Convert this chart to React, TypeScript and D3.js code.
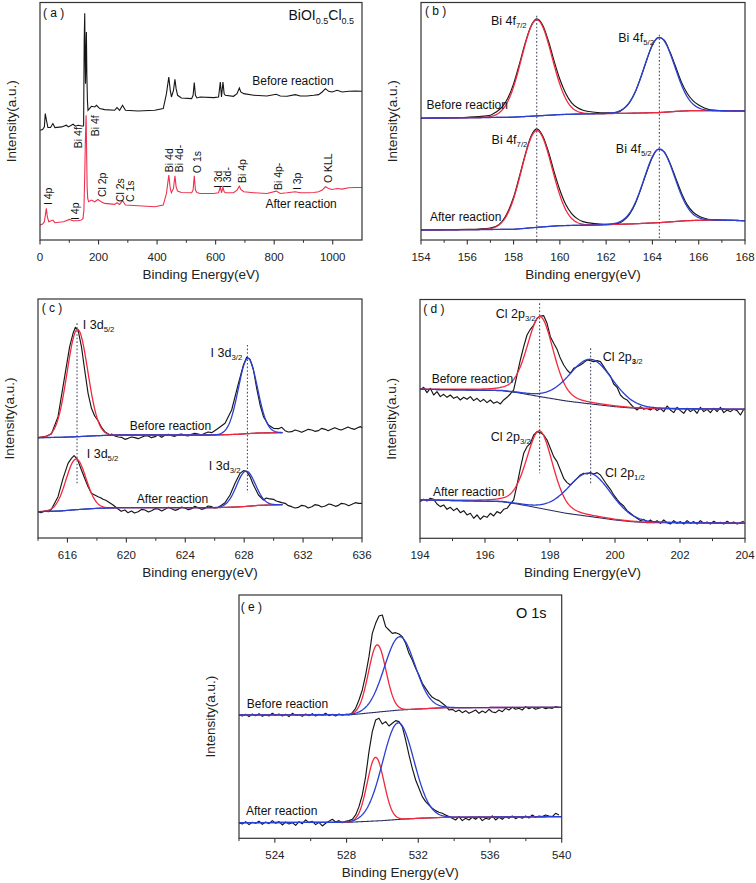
import React from "react";
import * as d3 from "d3";

type Pt = [number, number];
type Peak = { c: number; a: number; w: number; eta?: number };

const FONT = "'Liberation Sans', Arial, Helvetica, sans-serif";
const BLACK = "#161616";
const RED = "#f2283e";
const BLUE = "#2b3fd4";
const BGC = "#2a2d63";
const PINK = "#f03050";
const AXIS = "#333";

// ================= Panel (a): survey =================
const surveyBefore: Pt[] = [
  [0, 330], [9, 332], [15, 340], [18, 380], [22, 360], [27, 338], [36, 338], [44, 350], [51, 338], [74, 340],
  [90, 345], [97, 340], [113, 348], [121, 342], [130, 345], [147, 342], [149, 345], [151, 600], [152.8, 682],
  [154, 560], [155.5, 470], [157, 560], [158.5, 625], [160, 500], [162, 420], [164, 390], [175.6, 402], [187, 400],
  [193, 405], [204, 395], [221, 392], [255, 390], [263, 398], [272, 390], [282, 405], [292, 390], [335, 388],
  [392, 390], [421, 395], [432, 440], [440, 490], [445, 450], [449, 430], [456, 450], [461, 483], [465, 455],
  [470, 435], [483, 427], [518, 425], [523, 435], [527, 473], [531, 435], [536, 427], [547, 430], [593, 428],
  [610, 430], [616, 475], [620, 430], [625, 475], [629, 440], [633, 435], [661, 432], [673, 440], [681, 457],
  [686, 445], [696, 440], [730, 435], [775, 433], [807, 438], [821, 433], [844, 432], [872, 437], [889, 433],
  [912, 433], [935, 435], [952, 437], [964, 445], [975, 455], [986, 447], [998, 445], [1015, 450], [1032, 445],
  [1055, 447], [1078, 448], [1100, 447],
];
const surveyAfter: Pt[] = [
  [0, 45], [9, 48], [15, 55], [21.7, 95], [25, 70], [30, 55], [44, 60], [51, 52], [80, 55], [101, 62], [113, 58],
  [130, 58], [141, 60], [147, 65], [150, 90], [153, 200], [155, 300], [157.5, 375], [159.5, 250], [161, 160],
  [163, 125], [166, 115], [175.6, 120], [187, 115], [198, 122], [209, 115], [221, 110], [255, 107], [263, 112],
  [272, 107], [282, 118], [292, 105], [335, 103], [392, 100], [421, 105], [432, 140], [440, 195], [445, 155],
  [449, 142], [456, 155], [461, 193], [465, 160], [470, 147], [483, 143], [518, 142], [523, 150], [527, 193],
  [531, 150], [536, 143], [547, 140], [593, 140], [610, 142], [616, 160], [620, 142], [625, 158], [629, 145],
  [633, 142], [661, 142], [673, 150], [681, 162], [686, 152], [696, 145], [730, 142], [775, 140], [807, 147],
  [821, 140], [844, 142], [872, 145], [889, 142], [912, 142], [935, 143], [952, 145], [964, 150], [975, 160],
  [986, 155], [998, 152], [1015, 155], [1032, 153], [1055, 157], [1078, 158], [1100, 158],
];
const surveyMajor = [0, 200, 400, 600, 800, 1000];
const surveyMinor = [100, 300, 500, 700, 900];
const surveyPeakLabels: { t: string; e: number; v: number }[] = [
  { t: "I 4p", e: 41, v: 105 }, { t: "I 4p", e: 133, v: 60 }, { t: "Bi 4f", e: 144, v: 276 },
  { t: "Bi 4f", e: 202, v: 312 }, { t: "Cl 2p", e: 226, v: 129 }, { t: "Cl 2s", e: 287, v: 114 },
  { t: "C 1s", e: 322, v: 114 }, { t: "Bi 4d", e: 453, v: 204 }, { t: "Bi 4d-", e: 488, v: 204 },
  { t: "O 1s", e: 551, v: 201 }, { t: "I 3d", e: 621, v: 156 }, { t: "I 3d-", e: 654, v: 156 },
  { t: "Bi 4p", e: 705, v: 171 }, { t: "Bi 4p-", e: 828, v: 150 }, { t: "I 3p", e: 893, v: 150 },
  { t: "O KLL", e: 999, v: 171 },
];

// ================= Panel (b): Bi 4f =================
const biRawBefore: Pt[] = [
  [154, 365], [155, 366], [156, 368], [156.5, 370], [157, 374], [157.25, 384], [157.5, 398], [157.75, 425],
  [158, 468], [158.25, 527], [158.5, 590], [158.75, 641], [159, 663], [159.25, 645], [159.5, 598], [159.75, 537],
  [160, 482], [160.25, 440], [160.5, 412], [160.75, 397], [161, 389], [161.5, 383], [162, 381], [162.5, 383],
  [162.75, 393], [163, 411], [163.25, 442], [163.5, 488], [163.75, 539], [164, 585], [164.25, 607], [164.5, 600],
  [164.75, 565], [165, 520], [165.25, 474], [165.5, 440], [165.75, 418], [166, 405], [166.25, 396], [166.5, 390],
  [167, 388], [167.5, 387], [168, 387],
];
const biRawAfter: Pt[] = [
  [154, 30], [155, 31], [156, 32], [156.5, 33], [157, 36], [157.25, 41], [157.5, 55], [157.75, 84], [158, 128],
  [158.25, 190], [158.5, 255], [158.75, 310], [159, 333], [159.25, 313], [159.5, 266], [159.75, 205], [160, 150],
  [160.25, 107], [160.5, 80], [160.75, 64], [161, 55], [161.5, 49], [162, 47], [162.5, 49], [162.75, 58], [163, 76],
  [163.25, 107], [163.5, 153], [163.75, 203], [164, 248], [164.25, 272], [164.5, 265], [164.75, 232], [165, 187],
  [165.25, 142], [165.5, 106], [165.75, 84], [166, 72], [166.25, 65], [166.5, 61], [167, 60], [167.5, 59], [168, 58],
];
const biBgBefore: Pt[] = [[154, 365], [157.9, 368], [159, 372], [160, 376], [161, 378], [163, 380], [164.3, 382], [165.1, 386], [165.8, 388], [168, 387]];
const biBgAfter: Pt[] = [[154, 30], [158, 32], [159, 38], [160, 43], [161.5, 45], [163, 48], [164.3, 52], [165.5, 58], [166.5, 60], [168, 58]];
const biPeaksBefore: Peak[] = [{ c: 159.0, a: 288, w: 1.55 }, { c: 164.3, a: 225, w: 1.55 }];
const biPeaksAfter: Peak[] = [{ c: 159.0, a: 290, w: 1.55 }, { c: 164.3, a: 221, w: 1.55 }];
const biMajor = [154, 156, 158, 160, 162, 164, 166, 168];
const biMinor = [155, 157, 159, 161, 163, 165, 167];

// ================= Panel (c): I 3d =================
const iRawBefore: Pt[] = [
  [614.0, 301], [614.45, 304], [614.91, 312], [615.36, 364], [615.81, 484], [616.15, 574], [616.38, 614],
  [616.54, 632], [616.72, 624], [616.95, 574], [617.17, 504], [617.4, 434], [617.63, 389], [617.85, 366],
  [618.08, 352], [618.31, 332], [618.54, 319], [618.88, 309], [619.0, 312], [619.22, 306], [619.45, 303],
  [619.67, 302], [619.9, 296], [620.12, 299], [620.35, 303], [620.58, 301], [620.8, 298], [621.03, 302],
  [621.25, 306], [621.48, 306], [621.7, 301], [621.94, 304], [622.15, 309], [622.4, 302], [622.62, 308],
  [622.85, 311], [623.07, 307], [623.3, 305], [623.52, 310], [623.75, 312], [623.98, 308], [624.2, 306],
  [624.43, 311], [624.65, 314], [624.88, 312], [625.1, 309], [625.34, 314], [625.55, 318], [625.79, 316],
  [626.0, 322], [626.24, 329], [626.7, 344], [627.15, 384], [627.61, 464], [627.95, 519], [628.17, 542],
  [628.4, 536], [628.63, 504], [628.85, 449], [629.08, 399], [629.31, 364], [629.65, 339], [629.99, 329],
  [630.33, 328], [630.55, 332], [630.78, 322], [631.0, 318], [631.23, 319], [631.45, 324], [631.69, 321],
  [631.9, 317], [632.14, 322], [632.35, 326], [632.59, 324], [632.8, 320], [633.05, 322], [633.25, 329],
  [633.5, 326], [633.7, 322], [633.95, 327], [634.15, 331], [634.41, 326], [634.6, 324], [634.86, 329],
  [635.05, 333], [635.32, 328], [635.5, 326], [635.77, 332], [635.9, 334], [636.0, 331],
];
const iRawAfter: Pt[] = [
  [614.0, 79], [614.2, 76], [614.45, 81], [614.7, 79], [614.91, 86], [615.36, 124], [615.7, 179], [616.04, 224],
  [616.27, 239], [616.45, 247], [616.68, 236], [616.95, 204], [617.17, 179], [617.4, 154], [617.63, 134],
  [617.85, 129], [618.08, 124], [618.25, 121], [618.42, 116], [618.6, 113], [618.76, 109], [619.1, 99],
  [619.44, 87], [619.65, 80], [619.9, 84], [620.1, 76], [620.35, 81], [620.55, 75], [620.8, 79], [621.05, 86],
  [621.26, 84], [621.5, 78], [621.71, 82], [621.95, 88], [622.16, 87], [622.4, 81], [622.62, 86], [622.85, 92],
  [623.07, 88], [623.3, 83], [623.52, 86], [623.75, 93], [623.98, 90], [624.2, 85], [624.43, 88], [624.65, 95],
  [624.88, 91], [625.1, 86], [625.34, 89], [625.55, 96], [625.79, 94], [626.0, 90], [626.24, 92], [626.45, 98],
  [626.7, 106], [627.04, 129], [627.38, 164], [627.72, 194], [627.95, 202], [628.17, 199], [628.4, 184],
  [628.63, 159], [628.97, 129], [629.31, 114], [629.5, 120], [629.65, 118], [629.99, 116], [630.15, 112],
  [630.33, 109], [630.55, 106], [630.78, 104], [631.0, 97], [631.23, 94], [631.45, 90], [631.69, 92], [631.9, 98],
  [632.14, 96], [632.35, 90], [632.59, 94], [632.8, 100], [633.05, 98], [633.25, 93], [633.5, 96], [633.75, 102],
  [633.95, 100], [634.2, 95], [634.41, 98], [634.6, 104], [634.86, 102], [635.1, 97], [635.32, 101], [635.55, 106],
  [635.77, 104], [636.0, 104],
];
const iBgBefore: Pt[] = [[614, 301], [615.5, 302], [616.7, 304], [618, 307], [619.5, 309], [626, 309], [627.5, 311], [628.2, 313], [629, 315], [630.5, 316]];
const iBgAfter: Pt[] = [[614, 79], [615.5, 81], [616.6, 85], [618, 89], [619.5, 91], [626, 91], [627.5, 93], [628.2, 95], [629, 98], [630.5, 100]];
const iPeaksBefore: Peak[] = [{ c: 616.68, a: 322, w: 1.65 }, { c: 628.25, a: 226, w: 1.52 }];
const iPeaksAfter: Peak[] = [{ c: 616.58, a: 152, w: 1.6 }, { c: 628.12, a: 106, w: 1.5 }];
const iMajor = [616, 620, 624, 628, 632, 636];
const iMinor = [614, 618, 622, 626, 630, 634];

// ================= Panel (d): Cl 2p =================
const clStart = 194.01;
const clStep = 0.1026;
const clRawBefore = [
  445, 453, 437, 450, 430, 440, 425, 432, 423, 430, 420, 425, 415, 423, 417, 425, 413, 420, 410, 417,
  407, 415, 405, 410, 403, 415, 423, 433, 445, 490, 535, 575, 610, 627, 640, 660, 667, 668, 645, 605,
  585, 567, 540, 520, 505, 495, 510, 515, 520, 527, 535, 533, 530, 533, 530, 515, 500, 487, 463, 453,
  430, 420, 415, 403, 393, 385, 395, 387, 390, 385, 393, 383, 390, 380, 397, 385, 377, 393, 383, 375,
  390, 380, 387, 375, 393, 380, 387, 377, 390, 380, 393, 377, 385, 380, 387, 383, 370, 387,
];
const clRawAfter = [
  110, 117, 112, 120, 117, 103, 95, 100, 87, 93, 83, 90, 77, 83, 70, 75, 60, 70, 57, 67,
  63, 75, 67, 80, 75, 87, 90, 103, 115, 160, 210, 255, 275, 285, 310, 320, 317, 310, 295, 270,
  245, 230, 205, 180, 167, 160, 170, 180, 190, 195, 193, 197, 193, 197, 190, 175, 160, 147, 130, 117,
  105, 97, 83, 75, 67, 60, 53, 57, 47, 55, 47, 53, 45, 55, 47, 43, 53, 45, 50, 43,
  53, 45, 50, 43, 53, 45, 49, 43, 51, 45, 48, 43, 51, 45, 49, 43, 47, 51,
];
const clBgBefore: Pt[] = [[194, 447], [196.5, 443], [197, 437], [197.7, 425], [198.5, 412], [199.26, 403], [200, 395], [200.5, 391], [201, 389], [204, 387]];
const clBgAfter: Pt[] = [[194, 115], [196.5, 110], [197, 103], [197.7, 90], [198.5, 75], [199.26, 65], [200, 55], [200.5, 50], [201, 47], [204, 45]];
const clPeaksBefore: Peak[] = [{ c: 197.7, a: 240, w: 0.95, eta: 0.25 }, { c: 199.26, a: 134, w: 1.55, eta: 0.1 }];
const clPeaksAfter: Peak[] = [{ c: 197.68, a: 232, w: 0.95, eta: 0.25 }, { c: 199.22, a: 130, w: 1.55, eta: 0.1 }];
const clMajor = [194, 196, 198, 200, 202, 204];
const clMinor = [195, 197, 199, 201, 203];

// ================= Panel (e): O 1s =================
const oStart = 522;
const oStep = 0.1859;
const oRawBefore = [
  370, 367, 372, 365, 373, 368, 374, 366, 371, 367, 375, 369, 373, 367, 372, 365, 375, 369, 371, 366,
  373, 368, 374, 367, 372, 369, 375, 368, 372, 367, 373, 369, 372, 370, 377, 390, 415, 445, 490, 545,
  615, 645, 667, 670, 635, 625, 615, 617, 613, 605, 585, 555, 535, 510, 490, 465, 450, 435, 423, 417,
  413, 405, 397, 385, 387, 380, 385, 377, 383, 375, 380, 385, 375, 382, 377, 387, 379, 377, 385, 380,
  390, 385, 393, 387, 390, 385, 395, 389, 393, 387, 390, 393, 389, 392, 390, 395, 392,
];
const oRawAfter = [
  47, 43, 50, 41, 48, 45, 51, 42, 49, 44, 53, 45, 50, 40, 49, 43, 47, 39, 50, 44,
  55, 47, 51, 41, 48, 37, 45, 51, 57, 49, 53, 47, 51, 53, 57, 70, 95, 130, 185, 260,
  320, 355, 360, 343, 350, 337, 345, 353, 350, 335, 295, 250, 210, 175, 150, 125, 110, 100, 90, 83,
  78, 75, 70, 65, 60, 55, 65, 53, 60, 55, 63, 57, 65, 53, 60, 57, 67, 55, 63, 57,
  65, 60, 67, 59, 65, 60, 67, 61, 70, 63, 67, 65, 70, 67, 65, 75, 70,
];
const oBgBefore: Pt[] = [[522, 370], [528.3, 371], [530, 380], [531, 385], [532, 388], [533.5, 392], [540, 393]];
const oBgAfter: Pt[] = [[522, 47], [528.1, 48], [530, 53], [531, 57], [532, 60], [533.5, 63], [540, 65]];
const oPeaksBefore: Peak[] = [{ c: 529.71, a: 202, w: 1.15 }, { c: 530.96, a: 220, w: 2.0 }];
const oPeaksAfter: Peak[] = [{ c: 529.62, a: 191, w: 1.1 }, { c: 530.88, a: 290, w: 2.05 }];
const oMajor = [524, 528, 532, 536, 540];
const oMinor = [522, 526, 530, 534, 538];

// ================= helpers =================
type Box = { l: number; r: number; t: number; b: number };
type Sc = d3.ScaleLinear<number, number>;

function pv(e: number, p: Peak) {
  const d = (e - p.c) / p.w;
  const eta = p.eta ?? 0;
  return p.a * ((1 - eta) * Math.exp(-4 * Math.LN2 * d * d) + eta / (1 + 4 * d * d));
}

function gridPts(start: number, step: number, vals: number[]): Pt[] {
  return vals.map((v, i) => [start + i * step, v] as Pt);
}

function Panel(props: {
  box: Box; xDom: [number, number]; yDom: [number, number]; major: number[]; minor: number[];
  xTitle: string; children: (x: Sc, y: Sc) => React.ReactNode;
}) {
  const { box, xDom, yDom, major, minor, xTitle } = props;
  const x = d3.scaleLinear().domain(xDom).range([box.l, box.r]);
  const y = d3.scaleLinear().domain(yDom).range([box.b, box.t]);
  const mid = (box.t + box.b) / 2;
  return (
    <g>
      <g>{props.children(x, y)}</g>
      <rect x={box.l} y={box.t} width={box.r - box.l} height={box.b - box.t} fill="none" stroke={AXIS} strokeWidth={1.2} />
      {major.map((t) => (
        <g key={"M" + t}>
          <line x1={x(t)} x2={x(t)} y1={box.b} y2={box.b + 4.5} stroke={AXIS} strokeWidth={1.1} />
          <text x={x(t)} y={box.b + 20.5} textAnchor="middle" fontSize={11.5} fill="#222">{t}</text>
        </g>
      ))}
      {minor.map((t) => (
        <line key={"m" + t} x1={x(t)} x2={x(t)} y1={box.b} y2={box.b + 2.8} stroke={AXIS} strokeWidth={1} />
      ))}
      <text x={(box.l + box.r) / 2} y={box.b + 39} textAnchor="middle" fontSize={13.5} fill="#222">{xTitle}</text>
      <text transform={`translate(${box.l - 24},${mid}) rotate(-90)`} textAnchor="middle" fontSize={13.5} fill="#222">Intensity(a.u.)</text>
    </g>
  );
}

function Spectrum(props: {
  x: Sc; y: Sc; raw: Pt[]; bg: Pt[]; peaks: Peak[]; range: [number, number]; step: number; smooth?: boolean;
}) {
  const { x, y, raw, bg, peaks, range, step } = props;
  const bgS = d3.scaleLinear().domain(bg.map((d) => d[0])).range(bg.map((d) => d[1])).clamp(true);
  const es = d3.range(range[0], range[1] + step / 2, step);
  const line = d3.line<Pt>().x((d) => x(d[0])).y((d) => y(d[1]));
  const rawLine = d3.line<Pt>().x((d) => x(d[0])).y((d) => y(d[1])).curve(props.smooth ? d3.curveMonotoneX : d3.curveLinear);
  const bgPts: Pt[] = es.map((e) => [e, bgS(e)]);
  const fit = (p: Peak): Pt[] => es.map((e) => [e, bgS(e) + pv(e, p)]);
  return (
    <g fill="none" strokeLinejoin="round">
      <path d={rawLine(raw) || ""} stroke={BLACK} strokeWidth={1.15} />
      <path d={line(bgPts) || ""} stroke={BGC} strokeWidth={1.1} />
      <path d={line(fit(peaks[0])) || ""} stroke={RED} strokeWidth={1.3} />
      <path d={line(fit(peaks[1])) || ""} stroke={BLUE} strokeWidth={1.3} />
    </g>
  );
}

function Sub(props: { x: number; y: number; main: string; sub: React.ReactNode; size?: number }) {
  const s = props.size ?? 12.5;
  return (
    <text x={props.x} y={props.y} fontSize={s} fill="#111">
      {props.main}
      <tspan fontSize={s * 0.62} dy={3.2}>{props.sub}</tspan>
    </text>
  );
}

function VDot(props: { x: Sc; y: Sc; e: number; v0: number; v1: number }) {
  const { x, y, e, v0, v1 } = props;
  return <line x1={x(e)} x2={x(e)} y1={y(v0)} y2={y(v1)} stroke="#4a4a6a" strokeWidth={1.1} strokeDasharray="1.6,2" />;
}

export default function App() {
  return (
    <div style={{ position: "absolute", left: 0, top: 0 }}>
      <svg width={756} height={883} style={{ display: "block", fontFamily: FONT, background: "#fff" }}>
        {/* (a) */}
        <Panel box={{ l: 40, r: 362, t: 2.5, b: 240 }} xDom={[0, 1100]} yDom={[0, 714]} major={surveyMajor} minor={surveyMinor} xTitle="Binding Energy(eV)">
          {(x, y) => {
            const ln = d3.line<Pt>().x((d) => x(d[0])).y((d) => y(d[1]));
            return (
              <g>
                <path d={ln(surveyBefore) || ""} fill="none" stroke={BLACK} strokeWidth={1.1} />
                <path d={ln(surveyAfter) || ""} fill="none" stroke={PINK} strokeWidth={1.1} />
                {surveyPeakLabels.map((l, i) => (
                  <text key={i} transform={`translate(${x(l.e)},${y(l.v)}) rotate(-90)`} fontSize={10.5} fill="#111">{l.t}</text>
                ))}
                <text x={x(725)} y={y(465)} fontSize={12} fill="#111">Before reaction</text>
                <text x={x(770)} y={y(96)} fontSize={12} fill="#111">After reaction</text>
                <text x={x(849)} y={y(660)} fontSize={14} fill="#111">
                  BiOI<tspan fontSize={9} dy={4}>0.5</tspan><tspan dy={-4}>Cl</tspan><tspan fontSize={9} dy={4}>0.5</tspan>
                </text>
                <text x={x(10)} y={y(669)} fontSize={12} fill="#111">( a )</text>
              </g>
            );
          }}
        </Panel>

        {/* (b) */}
        <Panel box={{ l: 421, r: 745, t: 2.5, b: 240 }} xDom={[154, 168]} yDom={[0, 712]} major={biMajor} minor={biMinor} xTitle="Binding energy(eV)">
          {(x, y) => (
            <g>
              <Spectrum x={x} y={y} raw={biRawBefore} bg={biBgBefore} peaks={biPeaksBefore} range={[154, 168]} step={0.05} smooth />
              <Spectrum x={x} y={y} raw={biRawAfter} bg={biBgAfter} peaks={biPeaksAfter} range={[154, 168]} step={0.05} smooth />
              <VDot x={x} y={y} e={159.0} v0={672} v1={0} />
              <VDot x={x} y={y} e={164.3} v0={615} v1={0} />
              <Sub x={x(157.02)} y={y(645)} main="Bi 4f" sub="7/2" />
              <Sub x={x(162.52)} y={y(595)} main="Bi 4f" sub="5/2" />
              <Sub x={x(157.05)} y={y(288)} main="Bi 4f" sub="7/2" />
              <Sub x={x(162.42)} y={y(260)} main="Bi 4f" sub="5/2" />
              <text x={x(154.24)} y={y(392)} fontSize={12} fill="#111">Before reaction</text>
              <text x={x(154.39)} y={y(58)} fontSize={12} fill="#111">After reaction</text>
              <text x={x(154.17)} y={y(675)} fontSize={12} fill="#111">( b )</text>
            </g>
          )}
        </Panel>

        {/* (c) */}
        <Panel box={{ l: 38, r: 362, t: 299, b: 538 }} xDom={[614, 636]} yDom={[0, 717]} major={iMajor} minor={iMinor} xTitle="Binding energy(eV)">
          {(x, y) => (
            <g>
              <Spectrum x={x} y={y} raw={iRawBefore} bg={iBgBefore} peaks={iPeaksBefore} range={[614, 630.6]} step={0.05} />
              <Spectrum x={x} y={y} raw={iRawAfter} bg={iBgAfter} peaks={iPeaksAfter} range={[614, 630.6]} step={0.05} />
              <VDot x={x} y={y} e={616.65} v0={644} v1={164} />
              <VDot x={x} y={y} e={628.22} v0={579} v1={136} />
              <Sub x={x(617.04)} y={y(627)} main="I 3d" sub="5/2" />
              <Sub x={x(625.72)} y={y(543)} main="I 3d" sub="3/2" />
              <Sub x={x(617.31)} y={y(240)} main="I 3d" sub="5/2" />
              <Sub x={x(625.6)} y={y(204)} main="I 3d" sub="3/2" />
              <text x={x(620.23)} y={y(324)} fontSize={12} fill="#111">Before reaction</text>
              <text x={x(620.71)} y={y(106)} fontSize={12} fill="#111">After reaction</text>
              <text x={x(614.25)} y={y(679)} fontSize={12} fill="#111">( c )</text>
            </g>
          )}
        </Panel>

        {/* (d) */}
        <Panel box={{ l: 420, r: 745, t: 299.5, b: 538.3 }} xDom={[194, 204]} yDom={[0, 716.5]} major={clMajor} minor={clMinor} xTitle="Binding Energy(eV)">
          {(x, y) => (
            <g>
              <Spectrum x={x} y={y} raw={gridPts(clStart, clStep, clRawBefore)} bg={clBgBefore} peaks={clPeaksBefore} range={[194, 204]} step={0.02} />
              <Spectrum x={x} y={y} raw={gridPts(clStart, clStep, clRawAfter)} bg={clBgAfter} peaks={clPeaksAfter} range={[194, 204]} step={0.02} />
              <VDot x={x} y={y} e={197.68} v0={705} v1={195} />
              <VDot x={x} y={y} e={199.25} v0={570} v1={160} />
              <Sub x={x(196.33)} y={y(661)} main="Cl 2p" sub="3/2" />
              <Sub x={x(199.62)} y={y(532)} main="Cl 2p" sub={<><tspan fontWeight="bold">3</tspan>/2</>} />
              <Sub x={x(196.18)} y={y(292)} main="Cl 2p" sub="3/2" />
              <Sub x={x(199.69)} y={y(184)} main="Cl 2p" sub="1/2" />
              <text x={x(194.36)} y={y(467)} fontSize={12} fill="#111">Before reaction</text>
              <text x={x(194.4)} y={y(127)} fontSize={12} fill="#111">After reaction</text>
              <text x={x(194.1)} y={y(676)} fontSize={12} fill="#111">( d )</text>
            </g>
          )}
        </Panel>

        {/* (e) */}
        <Panel box={{ l: 239, r: 561.7, t: 595, b: 838.3 }} xDom={[522, 540]} yDom={[0, 730]} major={oMajor} minor={oMinor} xTitle="Binding Energy(eV)">
          {(x, y) => (
            <g>
              <Spectrum x={x} y={y} raw={gridPts(oStart, oStep, oRawBefore)} bg={oBgBefore} peaks={oPeaksBefore} range={[522, 540]} step={0.05} />
              <Spectrum x={x} y={y} raw={gridPts(oStart, oStep, oRawAfter)} bg={oBgAfter} peaks={oPeaksAfter} range={[522, 540]} step={0.05} />
              <text x={x(522.43)} y={y(392)} fontSize={12} fill="#111">Before reaction</text>
              <text x={x(522.39)} y={y(71)} fontSize={12} fill="#111">After reaction</text>
              <text x={x(522.1)} y={y(681)} fontSize={12} fill="#111">( e )</text>
              <text x={x(537.45)} y={y(662)} fontSize={14.5} fill="#111">O 1s</text>
            </g>
          )}
        </Panel>
      </svg>
    </div>
  );
}
